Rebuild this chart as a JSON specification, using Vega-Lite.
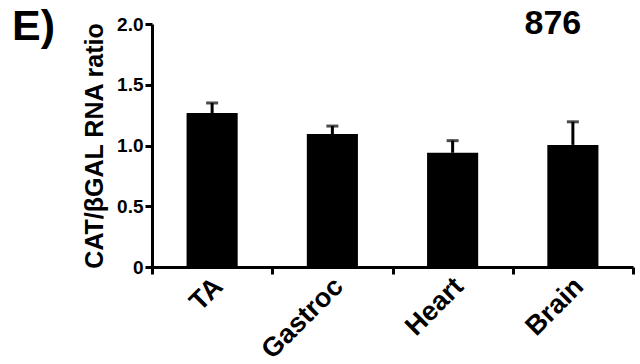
{
  "$schema": "https://vega.github.io/schema/vega-lite/v6.json",
  "width": 481,
  "height": 243,
  "autosize": "none",
  "padding": {"left": 152, "top": 24, "right": 7, "bottom": 97},
  "background": "white",
  "config": {"view": {"stroke": null}, "font": "Liberation Sans"},
  "title": {"text": "E)", "anchor": "start", "frame": "group", "fontSize": 43, "fontWeight": "bold", "font": "Liberation Sans", "color": "black", "dx": -140, "baseline": "alphabetic", "offset": 0, "dy": 76},
  "data": {"values": [
    {"tissue": "TA", "mean": 1.267, "upper": 1.35},
    {"tissue": "Gastroc", "mean": 1.095, "upper": 1.16},
    {"tissue": "Heart", "mean": 0.94, "upper": 1.04},
    {"tissue": "Brain", "mean": 1.005, "upper": 1.195}
  ]},
  "encoding": {
    "x": {"field": "tissue", "type": "nominal", "sort": null,
      "scale": {"paddingInner": 0, "paddingOuter": 0},
      "axis": {"title": null, "labelAngle": -45, "labelAlign": "right", "labelBaseline": "middle",
        "labelFontSize": 27, "labelFontWeight": "bold", "labelColor": "black",
        "domainColor": "black", "domainWidth": 3, "tickColor": "black", "tickWidth": 3, "tickSize": 7,
        "tickBand": "extent", "labelPadding": 8, "labelOffset": 6}}
  },
  "layer": [
    {"mark": {"type": "bar", "color": "black", "width": {"band": 0.425}},
     "encoding": {
       "y": {"field": "mean", "type": "quantitative", "scale": {"domain": [0, 2], "nice": false},
         "axis": {"values": [0, 0.5, 1, 1.5, 2], "labelExpr": "datum.value == 0 ? '0' : format(datum.value, '.1f')",
           "grid": false, "title": "CAT/βGAL RNA ratio", "titleFontSize": 25, "titleFontWeight": "bold", "titleColor": "black",
           "titlePadding": 9, "labelFontSize": 19, "labelFontWeight": "bold", "labelColor": "black",
           "domainColor": "black", "domainWidth": 3, "tickColor": "black", "tickWidth": 3, "tickSize": 7, "labelPadding": 2}}
     }},
    {"mark": {"type": "rule", "color": "black", "strokeWidth": 3},
     "encoding": {"y": {"field": "mean", "type": "quantitative"}, "y2": {"field": "upper"}}},
    {"mark": {"type": "tick", "color": "black", "thickness": 3, "size": 12},
     "encoding": {"y": {"field": "upper", "type": "quantitative"}}},
    {"data": {"values": [{"label": "876"}]},
     "mark": {"type": "text", "fontSize": 34, "fontWeight": "bold", "color": "black", "dx": -20, "baseline": "middle"},
     "encoding": {"x": {"datum": "Brain"}, "y": {"datum": 2.0}, "text": {"field": "label"}}}
  ]
}
